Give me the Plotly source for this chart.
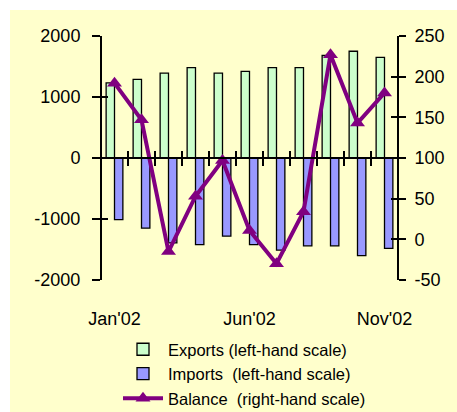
import plotly.graph_objects as go

months = ["Jan'02", "Feb'02", "Mar'02", "Apr'02", "May'02", "Jun'02",
          "Jul'02", "Aug'02", "Sep'02", "Oct'02", "Nov'02"]
exports = [1230, 1290, 1390, 1480, 1390, 1420, 1480, 1480, 1680, 1750, 1650]
imports = [-1010, -1150, -1390, -1420, -1280, -1420, -1510, -1440, -1440, -1600, -1480]
balance = [192, 147, -15, 53, 97, 11, -30, 34, 227, 143, 180]
shown_labels = ["Jan'02", "Jun'02", "Nov'02"]
left_ticks = [-2000, -1000, 0, 1000, 2000]
right_ticks = [-50, 0, 50, 100, 150, 200, 250]

FONT = "Liberation Sans, Arial, sans-serif"
W, H = 457, 412
L, R, T, B = 101, 59, 36, 132
pw, ph = W - L - R, H - T - B

def px(x):
    return (x - L) / pw

def py(y):
    return (H - B - y) / ph

fig = go.Figure()
fig.add_trace(go.Bar(x=months, y=exports, name="Exports (left-hand scale)",
                     marker=dict(color="#CCFFCC", line=dict(color="black", width=1.3)),
                     xaxis="x", yaxis="y"))
fig.add_trace(go.Bar(x=months, y=imports, name="Imports  (left-hand scale)",
                     marker=dict(color="#9999FF", line=dict(color="black", width=1.3)),
                     xaxis="x", yaxis="y"))
fig.add_trace(go.Scatter(x=months, y=balance, name="Balance  (right-hand scale)",
                         mode="lines+markers",
                         line=dict(color="#800080", width=4),
                         marker=dict(symbol="triangle-up", size=13, color="#800080"),
                         xaxis="x", yaxis="y2"))
# invisible helper traces so the helper axes (inside tick halves, bottom labels) are drawn
fig.add_trace(go.Scatter(x=months, y=[None] * len(months), mode="lines",
                         showlegend=False, hoverinfo="skip", xaxis="x2", yaxis="y3"))
fig.add_trace(go.Scatter(x=months, y=[None] * len(months), mode="lines",
                         showlegend=False, hoverinfo="skip", xaxis="x3", yaxis="y4"))

cat_range = [-0.5, len(months) - 0.5]
tickfont = dict(family=FONT, size=18, color="black")
left_text = [str(v) for v in left_ticks]
right_text = [str(v) for v in right_ticks]

fig.update_layout(
    width=W, height=H,
    margin=dict(l=L, r=R, t=T, b=B, pad=0, autoexpand=False),
    paper_bgcolor="white",
    plot_bgcolor="rgba(0,0,0,0)",
    font=dict(family=FONT, size=16.5, color="black"),
    barmode="group", bargap=0.38, bargroupgap=0,
    showlegend=True,
    legend=dict(x=px(118), y=py(332), xanchor="left", yanchor="top",
                bgcolor="rgba(0,0,0,0)", font=dict(family=FONT, size=16.5, color="black"),
                tracegroupgap=0, itemwidth=40, traceorder="normal"),
    xaxis=dict(type="category", categoryorder="array", categoryarray=months,
               range=cat_range, anchor="free", position=0.5,
               showline=True, linecolor="black", linewidth=2,
               ticks="outside", ticklen=7, tickwidth=2, tickcolor="black",
               tickson="boundaries", showticklabels=False, showgrid=False, zeroline=False),
    xaxis2=dict(type="category", categoryorder="array", categoryarray=months,
                range=cat_range, overlaying="x", anchor="free", position=0.5,
                showline=False, ticks="inside", ticklen=7, tickwidth=2, tickcolor="black",
                tickson="boundaries", showticklabels=False, showgrid=False, zeroline=False),
    xaxis3=dict(type="category", categoryorder="array", categoryarray=months,
                range=cat_range, overlaying="x", anchor="free", position=0,
                showline=False, ticks="outside", ticklen=22, tickcolor="rgba(0,0,0,0)",
                tickvals=shown_labels, ticktext=shown_labels, tickfont=tickfont,
                showgrid=False, zeroline=False),
    yaxis=dict(range=[-2000, 2000], tickvals=left_ticks, ticktext=left_text,
               anchor="free", position=0,
               showline=True, linecolor="black", linewidth=2,
               ticks="outside", ticklen=8, tickwidth=2, tickcolor="black",
               ticklabelstandoff=8,
               tickfont=tickfont, showgrid=False, zeroline=False),
    yaxis3=dict(range=[-2000, 2000], tickvals=left_ticks, overlaying="y",
                anchor="free", position=0, side="left",
                showline=False, ticks="inside", ticklen=6, tickwidth=2, tickcolor="black",
                showticklabels=False, showgrid=False, zeroline=False),
    yaxis2=dict(range=[-50, 250], tickvals=right_ticks, ticktext=right_text,
                overlaying="y", anchor="free", position=1, side="right",
                showline=True, linecolor="black", linewidth=2,
                ticks="outside", ticklen=7, tickwidth=2, tickcolor="black",
                ticklabelstandoff=5,
                tickfont=tickfont, showgrid=False, zeroline=False),
    yaxis4=dict(range=[-50, 250], tickvals=right_ticks, overlaying="y",
                anchor="free", position=1, side="right",
                showline=False, ticks="inside", ticklen=7, tickwidth=2, tickcolor="black",
                showticklabels=False, showgrid=False, zeroline=False),
    shapes=[dict(type="rect", xref="paper", yref="paper",
                 x0=px(10), x1=px(W + 2), y0=py(H + 2), y1=py(10),
                 fillcolor="#FFFFCC", line=dict(width=0), layer="below")],
)

fig.write_html("out.html")
